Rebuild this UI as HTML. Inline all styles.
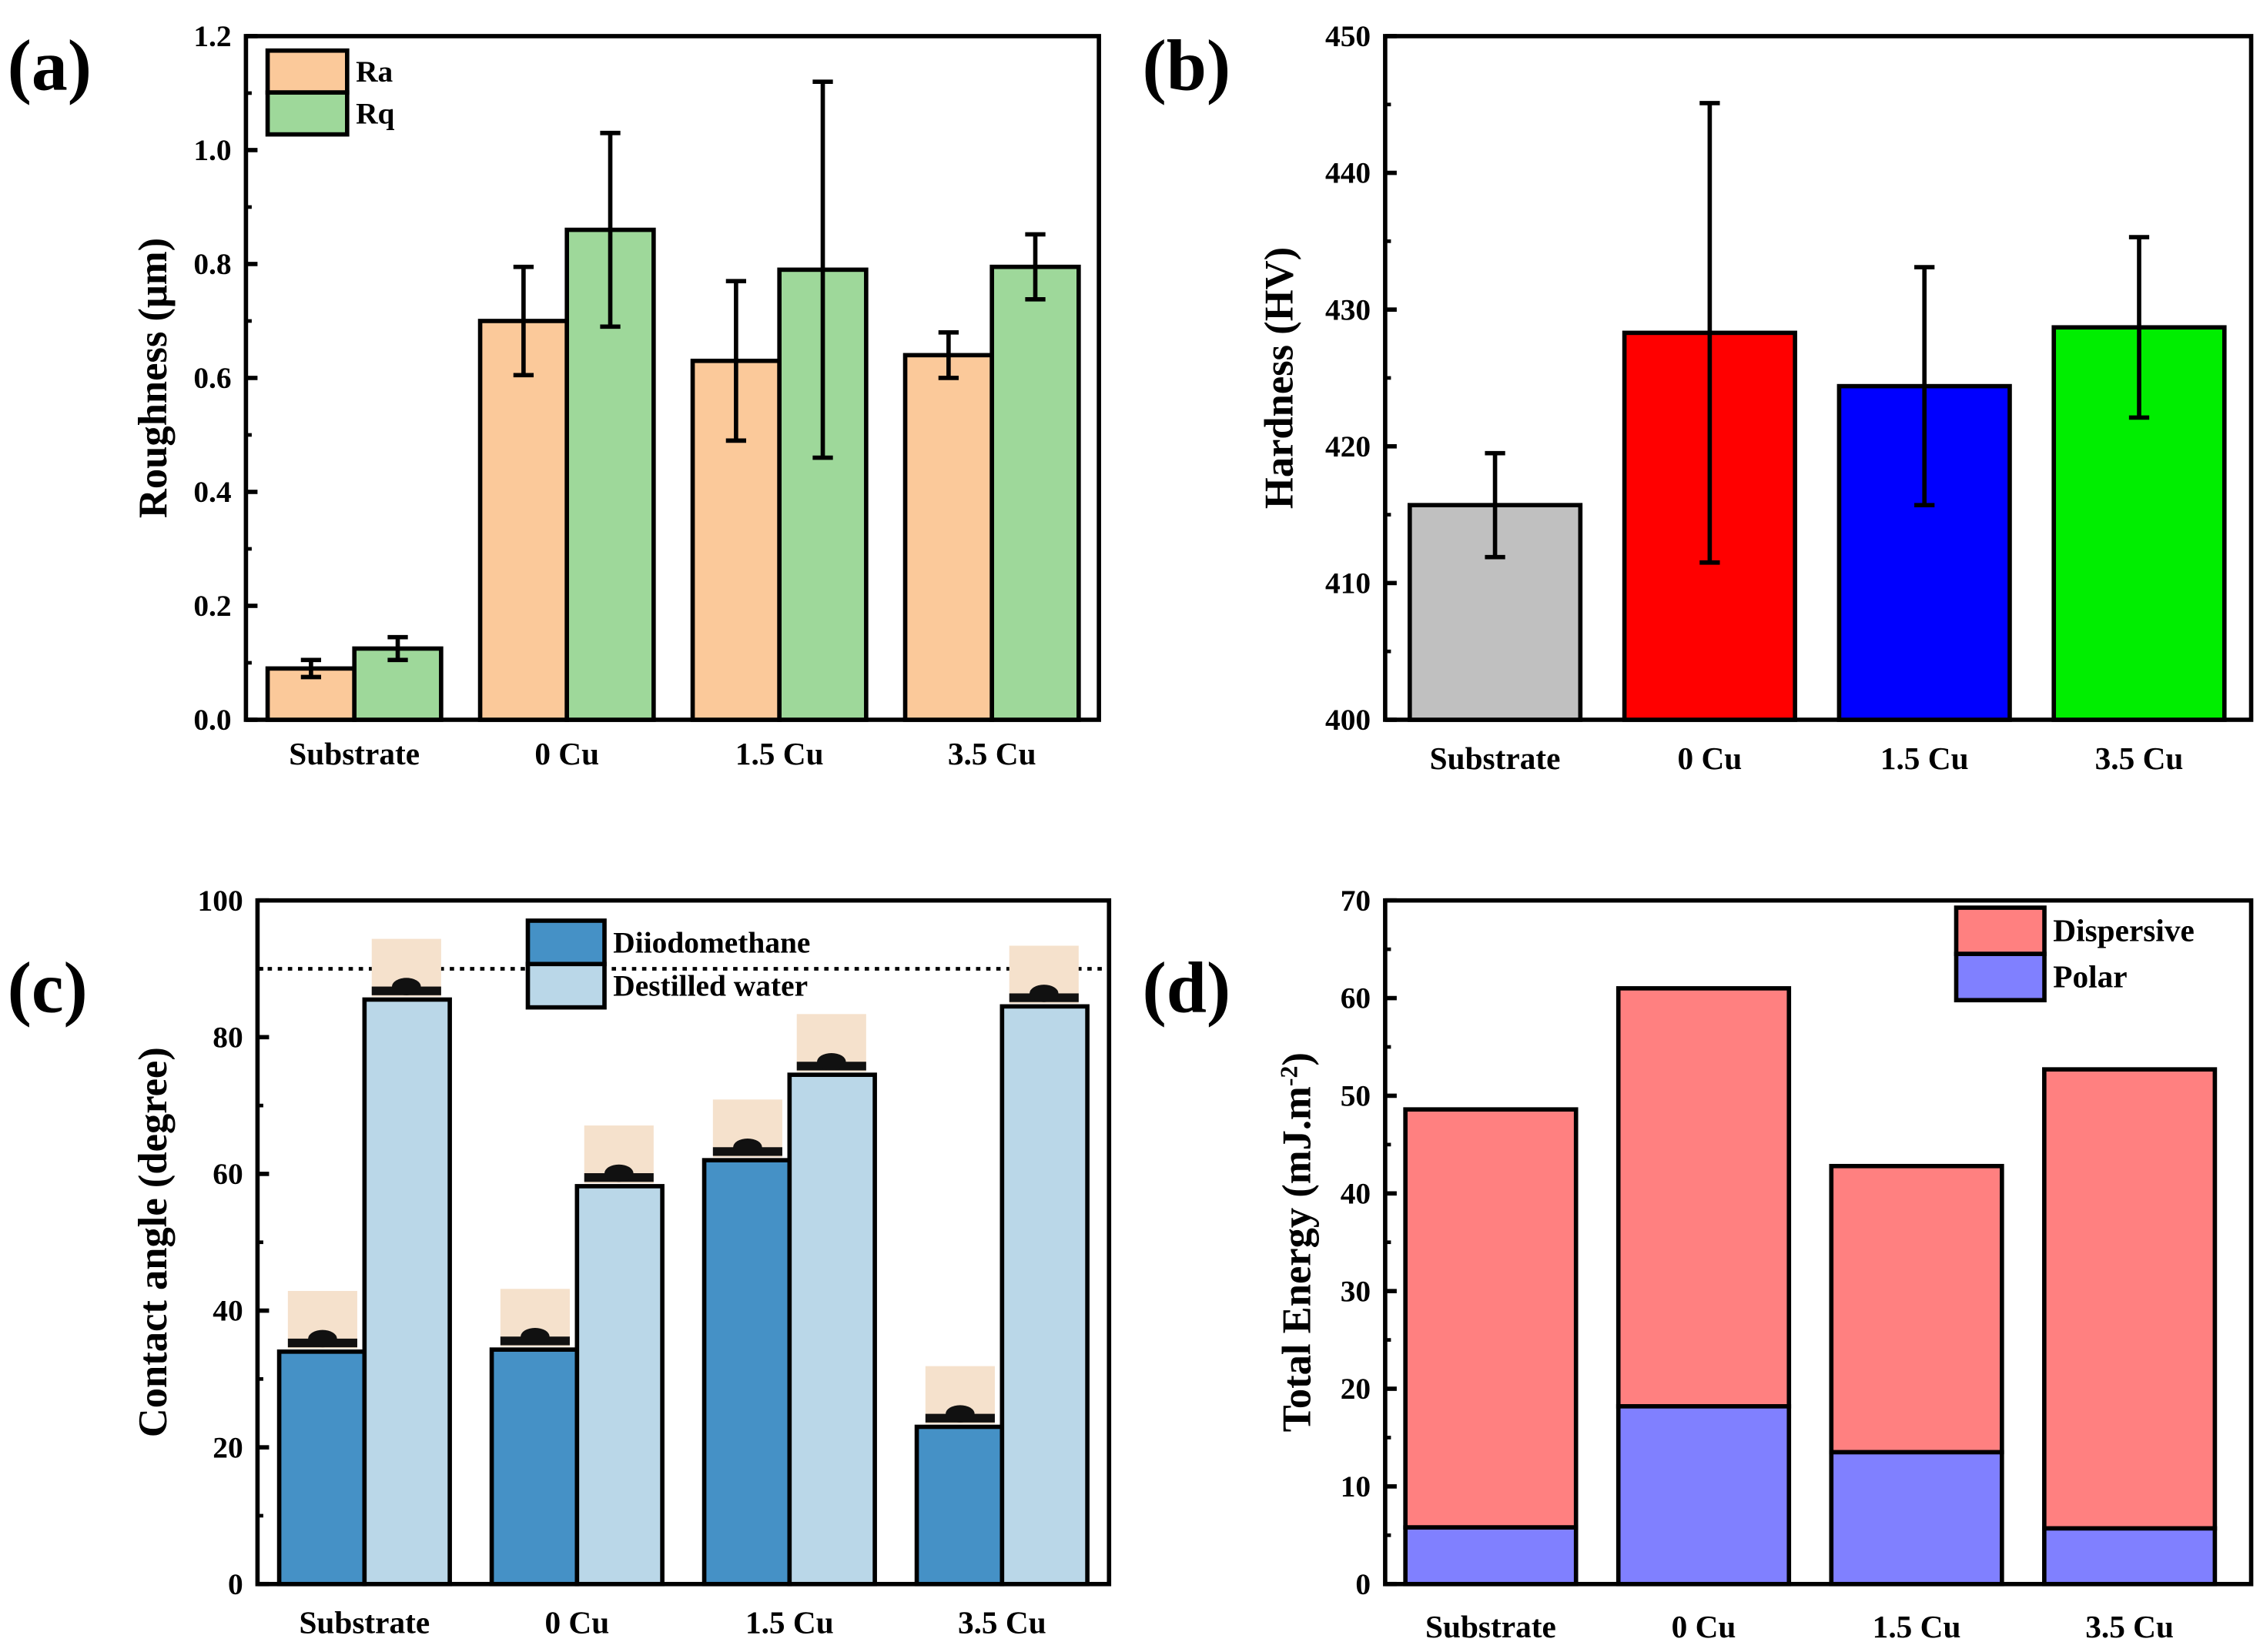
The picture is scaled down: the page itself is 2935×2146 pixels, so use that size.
<!DOCTYPE html>
<html><head><meta charset="utf-8"><style>
html,body{margin:0;padding:0;background:#fff}
svg{display:block}
text{font-family:"Liberation Serif",serif;font-weight:bold;fill:#000}
</style></head><body>
<svg id="fig" xmlns="http://www.w3.org/2000/svg" width="2935" height="2146" viewBox="0 0 1563 1143">
<rect width="1563" height="1143" fill="#fff"/>
</svg>
<script>
const groups = ["Substrate","0 Cu","1.5 Cu","3.5 Cu"];
const raValues = [0.09,0.70,0.63,0.64];
const raErr = [0.015,0.095,0.14,0.04];
const rqValues = [0.125,0.86,0.79,0.795];
const rqErr = [0.02,0.17,0.33,0.057];
const roughTicks = ["0.0","0.2","0.4","0.6","0.8","1.0","1.2"];
const hardValues = [415.7,428.3,424.4,428.7];
const hardErr = [3.8,16.8,8.7,6.6];
const hardTicks = ["400","410","420","430","440","450"];
const diioValues = [34,34.3,62,23];
const waterValues = [85.5,58.2,74.5,84.5];
const angleTicks = ["0","20","40","60","80","100"];
const polarValues = [5.8,18.2,13.5,5.7];
const totalValues = [48.6,61,42.8,52.7];
const energyTicks = ["0","10","20","30","40","50","60","70"];

const svg = document.getElementById('fig');
const NS = "http://www.w3.org/2000/svg";
function el(tag, attrs, parent, txt){
  const e = document.createElementNS(NS, tag);
  for (const k in attrs) e.setAttribute(k, attrs[k]);
  if (txt !== undefined) e.textContent = txt;
  (parent || svg).appendChild(e);
  return e;
}
function axes(p){
  const g = el('g', {});
  
  
  el('rect', {x:p.x0, y:p.y1, width:p.x1-p.x0, height:p.y0-p.y1, fill:'none', stroke:'#000', 'stroke-width':3}, g);
  const n = p.ticks.length - 1;
  for (let i = 0; i <= n; i++){
    const v = p.min + (p.max - p.min) * i / n;
    const y = p.sy(v);
    el('line', {x1:p.x0, x2:p.x0+8, y1:y, y2:y, stroke:'#000', 'stroke-width':3}, g);
    if (i < n){
      const ym = p.sy(v + (p.max - p.min) / n / 2);
      el('line', {x1:p.x0, x2:p.x0+4, y1:ym, y2:ym, stroke:'#000', 'stroke-width':2.5}, g);
    }
    const t = el('text', {x:p.x0-10, y:y+7, 'text-anchor':'end', 'font-size':21}, g, p.ticks[i]);
    
    
  }
  groups.forEach((gname, i) => {
    const cx = p.cx(i);
    el('line', {x1:cx, x2:cx, y1:p.y0, y2:p.y0-6, stroke:'#000', 'stroke-width':3}, g);
    const t = el('text', {x:cx, y:p.y0+p.xlOff, 'text-anchor':'middle', 'font-size':22}, g, gname);
    
    
  });
  const yl = el('text', {transform:`translate(${p.ylx},${(p.y0+p.y1)/2}) rotate(-90)`, 'text-anchor':'middle', 'font-size':p.ylfs || 28}, svg);
  yl.innerHTML = p.ylabel;
  
  
  const pl = el('text', {x:p.lx, y:p.ly, 'font-size':50}, svg, p.letter);
  
  
}
function bar(x, w, y0, y1, fill, name){
  const r = el('rect', {x:x, y:Math.min(y0,y1), width:w, height:Math.abs(y0-y1), fill:fill, stroke:'#000', 'stroke-width':3});
  
  
  return r;
}
function errbar(cx, yl, yh, name){
  const g = el('g', {stroke:'#000', 'stroke-width':3});
  
  
  el('line', {x1:cx, x2:cx, y1:yl, y2:yh}, g);
  el('line', {x1:cx-7, x2:cx+7, y1:yl, y2:yl}, g);
  el('line', {x1:cx-7, x2:cx+7, y1:yh, y2:yh}, g);
}
function legend(x, y, w, h, items, fs){
  items.forEach((it, i) => {
    const r = el('rect', {x:x, y:y+i*h, width:w, height:h, fill:it[1], stroke:'#000', 'stroke-width':3});
    
    
    const t = el('text', {x:x+w+6, y:y+i*h+h/2+7, 'font-size':fs}, svg, it[0]);
    
    
  });
}

/* Panel a */
(function(){
  const p = {name:'roughness', x0:170, x1:760, y0:498, y1:25, min:0, max:1.2, ticks:roughTicks,
    xlOff:31, ylx:115, ylabel:'Roughness (μm)', letter:'(a)', lx:5, ly:62};
  p.sy = v => p.y0 - (v - p.min) / (p.max - p.min) * (p.y0 - p.y1);
  p.cx = i => 245 + i * 147;
  axes(p);
  groups.forEach((g, i) => {
    const c = p.cx(i);
    bar(c-60, 60, p.sy(0), p.sy(raValues[i]), '#FBC99A', 'bar-ra-' + i);
    bar(c, 60, p.sy(0), p.sy(rqValues[i]), '#9ED89A', 'bar-rq-' + i);
    errbar(c-30, p.sy(raValues[i]-raErr[i]), p.sy(raValues[i]+raErr[i]), 'error-ra-' + i);
    errbar(c+30, p.sy(rqValues[i]-rqErr[i]), p.sy(rqValues[i]+rqErr[i]), 'error-rq-' + i);
  });
  legend(185, 35, 55, 29, [['Ra','#FBC99A'],['Rq','#9ED89A']], 21);
})();

/* Panel b */
(function(){
  const p = {name:'hardness', x0:958, x1:1557, y0:498, y1:25, min:400, max:450, ticks:hardTicks,
    xlOff:34, ylx:894, ylabel:'Hardness (HV)', letter:'(b)', lx:790, ly:62};
  p.sy = v => p.y0 - (v - p.min) / (p.max - p.min) * (p.y0 - p.y1);
  p.cx = i => 1034 + i * 148.5;
  axes(p);
  const cols = ['#C0C0C0','#FF0000','#0000FF','#00EE00'];
  groups.forEach((g, i) => {
    const c = p.cx(i);
    bar(c-59, 118, p.sy(400), p.sy(hardValues[i]), cols[i], 'bar-hardness-' + i);
    errbar(c, p.sy(hardValues[i]-hardErr[i]), p.sy(hardValues[i]+hardErr[i]), 'error-hardness-' + i);
  });
})();

/* Panel c */
(function(){
  const p = {name:'contact-angle', x0:178, x1:767, y0:1096, y1:623, min:0, max:100, ticks:angleTicks,
    xlOff:34, ylx:115, ylabel:'Contact angle (degree)', letter:'(c)', lx:5, ly:700};
  p.sy = v => p.y0 - (v - p.min) / (p.max - p.min) * (p.y0 - p.y1);
  p.cx = i => 252 + i * 147;
  axes(p);
  const dl = el('line', {x1:p.x0, x2:p.x1, y1:p.sy(90), y2:p.sy(90), stroke:'#000', 'stroke-width':2.5, 'stroke-dasharray':'3,4'});
  
  
  function drop(cx, top, name){
    const g = el('g', {});
    
    
    el('rect', {x:cx-24, y:top-42, width:48, height:40, fill:'#F5E1CC'}, g);
    el('rect', {x:cx-24, y:top-9, width:48, height:6, fill:'#111'}, g);
    el('ellipse', {cx:cx, cy:top-9, rx:10, ry:6, fill:'#111'}, g);
  }
  groups.forEach((g, i) => {
    const c = p.cx(i);
    bar(c-59, 59, p.sy(0), p.sy(diioValues[i]), '#4591C6', 'bar-diiodomethane-' + i);
    bar(c, 59, p.sy(0), p.sy(waterValues[i]), '#BAD7E8', 'bar-water-' + i);
    drop(c-29, p.sy(diioValues[i]), 'droplet-diiodomethane-' + i);
    drop(c+29, p.sy(waterValues[i]), 'droplet-water-' + i);
  });
  legend(365, 637, 53, 30, [['Diiodomethane','#4591C6'],['Destilled water','#BAD7E8']], 21);
})();

/* Panel d */
(function(){
  const p = {name:'surface-energy', x0:958, x1:1557, y0:1096, y1:623, min:0, max:70, ticks:energyTicks,
    xlOff:37, ylx:906, ylabel:'Total Energy (mJ.m<tspan baseline-shift="super" font-size="17">-2</tspan>)', letter:'(d)', lx:790, ly:700};
  p.sy = v => p.y0 - (v - p.min) / (p.max - p.min) * (p.y0 - p.y1);
  p.cx = i => 1031 + i * 147.3;
  axes(p);
  groups.forEach((g, i) => {
    const c = p.cx(i);
    bar(c-59, 118, p.sy(polarValues[i]), p.sy(totalValues[i]), '#FF8080', 'bar-dispersive-' + i);
    bar(c-59, 118, p.sy(0), p.sy(polarValues[i]), '#8080FF', 'bar-polar-' + i);
  });
  legend(1353, 628, 61, 32, [['Dispersive','#FF8080'],['Polar','#8080FF']], 22);
})();
</script>
</body></html>
